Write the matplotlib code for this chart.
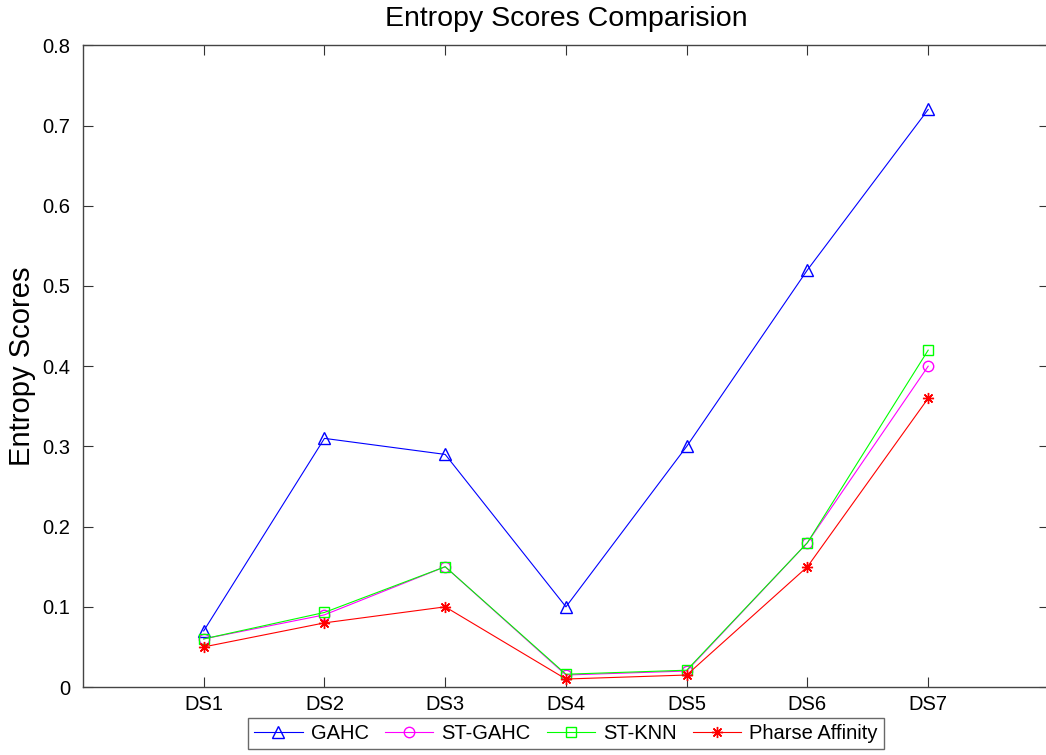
import matplotlib
matplotlib.use("Agg")
import matplotlib.pyplot as plt

plt.rcParams["font.family"] = ["Liberation Sans", "DejaVu Sans"]

# %%
datasets = ["DS1", "DS2", "DS3", "DS4", "DS5", "DS6", "DS7"]
gahc = [0.07, 0.31, 0.29, 0.10, 0.30, 0.52, 0.72]
st_gahc = [0.06, 0.09, 0.15, 0.015, 0.02, 0.18, 0.40]
st_knn = [0.06, 0.093, 0.15, 0.016, 0.021, 0.18, 0.42]
phrase_affinity = [0.05, 0.08, 0.10, 0.01, 0.015, 0.15, 0.36]
yticks = [0, 0.1, 0.2, 0.3, 0.4, 0.5, 0.6, 0.7, 0.8]

# %%
fig = plt.figure(figsize=(10.46, 7.55), dpi=100)
ax = fig.add_axes([0.0793, 0.090, 0.9235, 0.850])

x = range(1, len(datasets) + 1)
lw = 0.8
ax.plot(x, gahc, "-", color="blue", marker="^", mfc="none", ms=8.5, mew=1.0, lw=lw, label="GAHC")
ax.plot(x, st_gahc, "-", color="magenta", marker="o", mfc="none", ms=7.5, mew=1.0, lw=lw, label="ST-GAHC")
ax.plot(x, st_knn, "-", color="lime", marker="s", mfc="none", ms=7.5, mew=1.0, lw=lw, label="ST-KNN")
ax.plot(x, phrase_affinity, "-", color="red", marker=(8, 2, 0), ms=8, mew=1.0, lw=lw,
        label="Pharse Affinity")

ax.set_xlim(0, 8)
ax.set_ylim(0, 0.8)
ax.set_xticks(list(x))
ax.set_xticklabels(datasets)
ax.set_yticks(yticks)
ax.set_yticklabels([f"{v:g}" for v in yticks])
ax.tick_params(direction="in", top=True, right=True, length=7, width=0.8,
               labelsize=14.5, pad=9, color="#333333")
ax.tick_params(axis="x", pad=6)
for s in ax.spines.values():
    s.set_linewidth(1.0)
    s.set_color("#444444")

ax.set_title("Entropy Scores Comparision", fontsize=20.5, pad=14)
ax.set_ylabel("Entropy Scores", fontsize=21, labelpad=5)

leg = ax.legend(loc="upper center", bbox_to_anchor=(0.5, -0.048), ncol=4,
                fontsize=14.5, frameon=True, fancybox=False, edgecolor="#444444",
                handlelength=2.4, handletextpad=0.4, columnspacing=0.8,
                borderpad=0.3, borderaxespad=0)
leg.get_frame().set_linewidth(1.0)

fig.savefig("out.png", dpi=100)
